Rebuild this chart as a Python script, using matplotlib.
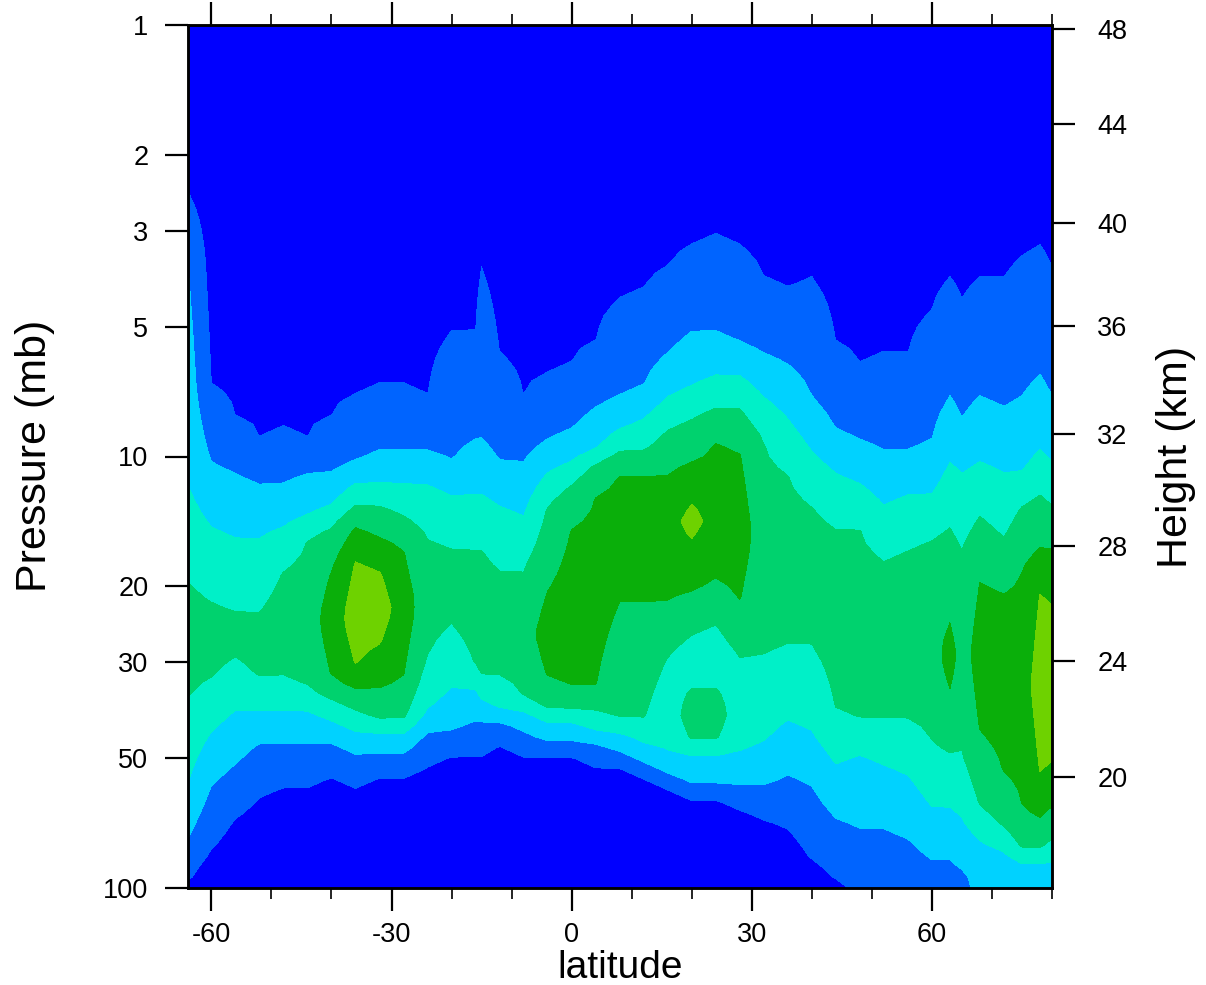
import numpy as np
import matplotlib
matplotlib.use('Agg')
import matplotlib.pyplot as plt
from matplotlib.ticker import MultipleLocator, NullLocator

plt.rcParams['font.family'] = ['Liberation Sans', 'DejaVu Sans']

# latitude of each sampled column (deg)
lat_cols = [-64, -60, -56, -52, -48, -44, -40, -36, -32, -28, -24, -20, -16, -15,
            -12, -8, -4, 0, 4, 8, 12, 16, 20, 24, 28, 32, 36, 40, 44, 48, 52, 56,
            60, 63, 65, 68, 72, 75, 78, 80]

# contour band index per column, bottom (100 mb) upward, as "band x rows";
# rows are 0.025 decade steps in pressure, anything above the last run is band 0
col_runs = [
    "0x1 1x4 2x5 3x8 4x11 3x9 2x21 1x6",
    "0x4 1x6 2x5 3x5 4x7 3x7 2x6 1x7",
    "0x7 1x5 2x5 3x5 4x4 3x7 2x6 1x5",
    "0x9 1x5 2x3 3x3 4x6 3x7 2x5 1x4",
    "0x10 1x4 2x3 3x3 4x10 3x4 2x4 1x5",
    "0x10 1x4 2x3 3x2 4x14 3x2 2x4 1x3",
    "0x11 1x3 2x2 3x2 4x2 5x10 4x4 3x2 2x3 1x5",
    "0x10 1x3 2x2 3x2 4x2 5x2 6x10 5x3 4x2 3x2 2x2 1x6",
    "0x11 1x2 2x2 3x1 4x3 5x4 6x7 5x3 4x3 3x2 2x3 1x6",
    "0x11 1x2 2x2 3x1 4x4 5x12 4x3 3x3 2x3 1x6",
    "0x12 1x3 2x2 3x5 4x11 3x5 2x3 1x5",
    "0x13 1x2 2x4 3x6 4x7 3x5 2x3 1x12",
    "0x13 1x3 2x3 3x2 4x11 3x5 2x5 1x10",
    "0x13 1x3 2x2 3x2 4x12 3x5 2x5 1x16",
    "0x14 1x2 2x1 3x3 4x10 3x6 2x4 1x10",
    "0x13 1x2 2x2 3x1 4x12 3x5 2x5 1x6",
    "0x13 1x1 2x2 3x1 4x3 5x8 4x8 3x3 2x3 1x6",
    "0x13 1x1 2x2 3x1 4x2 5x15 4x4 3x2 2x3 1x6",
    "0x12 1x2 2x1 3x2 4x2 5x18 4x3 3x1 2x4 1x6",
    "0x12 1x1 2x2 3x1 4x11 5x12 4x2 3x2 2x3 1x9",
    "0x11 1x1 2x2 3x2 4x11 5x12 4x2 3x3 2x3 1x9",
    "0x10 1x1 2x2 3x9 4x5 5x12 4x4 3x3 2x4 1x8",
    "0x9 1x1 2x3 3x1 4x5 3x5 4x4 5x5 6x3 5x4 4x4 3x3 2x5 1x8",
    "0x9 1x1 2x3 3x1 4x5 3x6 4x4 5x13 4x3 3x3 2x4 1x9",
    "0x8 1x2 2x3 3x9 4x5 5x14 4x4 3x3 2x3 1x9",
    "0x7 1x3 2x4 3x8 4x20 3x4 2x4 1x7",
    "0x6 1x5 2x5 3x7 4x16 3x5 2x5 1x7",
    "0x3 1x7 2x5 3x8 4x13 3x5 2x5 1x11",
    "0x1 1x6 2x5 3x5 4x17 3x5 2x4 1x8",
    "1x6 2x7 3x3 4x18 3x4 2x4 1x7",
    "1x6 2x6 3x4 4x15 3x5 2x5 1x9",
    "1x5 2x6 3x5 4x16 3x5 2x4 1x9",
    "1x3 2x5 3x6 4x19 3x4 2x5 1x12",
    "1x3 2x5 3x5 4x6 5x6 4x9 3x6 2x6 1x11",
    "1x2 2x5 3x6 4x19 3x7 2x5 1x11",
    "2x5 3x3 4x7 5x14 4x6 3x5 2x6 1x11",
    "2x4 3x2 4x5 5x17 4x5 3x6 2x6 1x12",
    "2x3 3x1 4x4 5x22 4x6 3x3 2x7 1x13",
    "2x3 3x1 4x3 5x4 6x17 5x4 4x5 3x4 2x7 1x12",
    "2x3 3x2 4x3 5x4 6x15 5x5 4x4 3x4 2x6 1x12",
]

band_colors = ['#0000FF', '#0064FF', '#00D2FF', '#00F0C8', '#00D26E', '#0AAF0A', '#6ED200']

p_ticks = [1, 2, 3, 5, 10, 20, 30, 50, 100]
x_ticks = [-60, -30, 0, 30, 60]
hgt_ticks = [20, 24, 28, 32, 36, 40, 44, 48]

n_rows = 81
pres = np.logspace(2, 0, n_rows)


def column_profile(runs):
    # band value at run centres, half-way values on the run edges
    parts = [tuple(int(v) for v in tok.split('x')) for tok in runs.split()]
    used = sum(n for _, n in parts)
    if used < n_rows:
        parts.append((0, n_rows - used))
    pos, val = [], []
    start = 0
    for i, (c, n) in enumerate(parts):
        pos.append(start + (n - 1) / 2.0)
        val.append(c)
        start += n
        if i < len(parts) - 1:
            pos.append(start - 0.5)
            val.append((c + parts[i + 1][0]) / 2.0)
    return np.interp(np.arange(n_rows), pos, val)


def std_pressure(z_km):
    # US standard atmosphere, geometric height -> pressure (mb)
    h = 6356.766 * z_km / (6356.766 + z_km)
    layers = [(0, 288.15, -6.5, 1013.25), (11, 216.65, 0.0, 226.32),
              (20, 216.65, 1.0, 54.749), (32, 228.65, 2.8, 8.6802),
              (47, 270.65, 0.0, 1.1091)]
    for zb, tb, lapse, pb in reversed(layers):
        if h >= zb:
            if lapse == 0:
                return pb * np.exp(-34.1632 * (h - zb) / tb)
            t = tb + lapse * (h - zb)
            return pb * (tb / t) ** (34.1632 / lapse)


Z = np.array([column_profile(s) for s in col_runs]).T

fig = plt.figure(figsize=(12.06, 9.85), dpi=100)
ax = fig.add_axes([188 / 1206, 1 - 888 / 985, 864 / 1206, 863 / 985])

ax.contourf(lat_cols, pres, Z, levels=np.arange(-0.5, 7.0, 1.0), colors=band_colors)

ax.set_yscale('log')
ax.set_ylim(100, 1)
ax.set_xlim(-63.9, 80)
ax.set_yticks(p_ticks)
ax.set_yticklabels([str(p) for p in p_ticks])
ax.yaxis.set_minor_locator(NullLocator())
ax.set_xticks(x_ticks)
ax.set_xticklabels([str(x) for x in x_ticks])
ax.xaxis.set_minor_locator(MultipleLocator(10))

ax.tick_params(which='major', direction='out', length=16.5, width=1.6, labelsize=19.5)
ax.tick_params(axis='x', which='both', top=True, labeltop=False)
ax.tick_params(axis='x', which='minor', direction='out', length=8, width=1.2)
ax.tick_params(axis='x', which='major', pad=8)
ax.tick_params(axis='y', right=False, pad=12)

ax2 = ax.twinx()
ax2.set_yscale('log')
ax2.set_ylim(100, 1)
ax2.set_yticks([std_pressure(h) for h in hgt_ticks])
ax2.set_yticklabels([str(h) for h in hgt_ticks])
ax2.yaxis.set_minor_locator(NullLocator())
ax2.tick_params(axis='y', which='major', direction='out', length=16.5, width=1.6,
                labelsize=19.5, pad=16)

for a in (ax, ax2):
    for s in a.spines.values():
        s.set_linewidth(1.8)

fig.text(620 / 1206, 1 - 978 / 985, 'latitude', fontsize=28, ha='center', va='baseline')
fig.text(35 / 1206, 1 - 456 / 985, 'Pressure (mb)', fontsize=31, rotation=90,
         ha='center', va='center')
fig.text(1176 / 1206, 1 - 457 / 985, 'Height (km)', fontsize=31, rotation=90,
         ha='center', va='center')

fig.savefig('out.png', dpi=100)
